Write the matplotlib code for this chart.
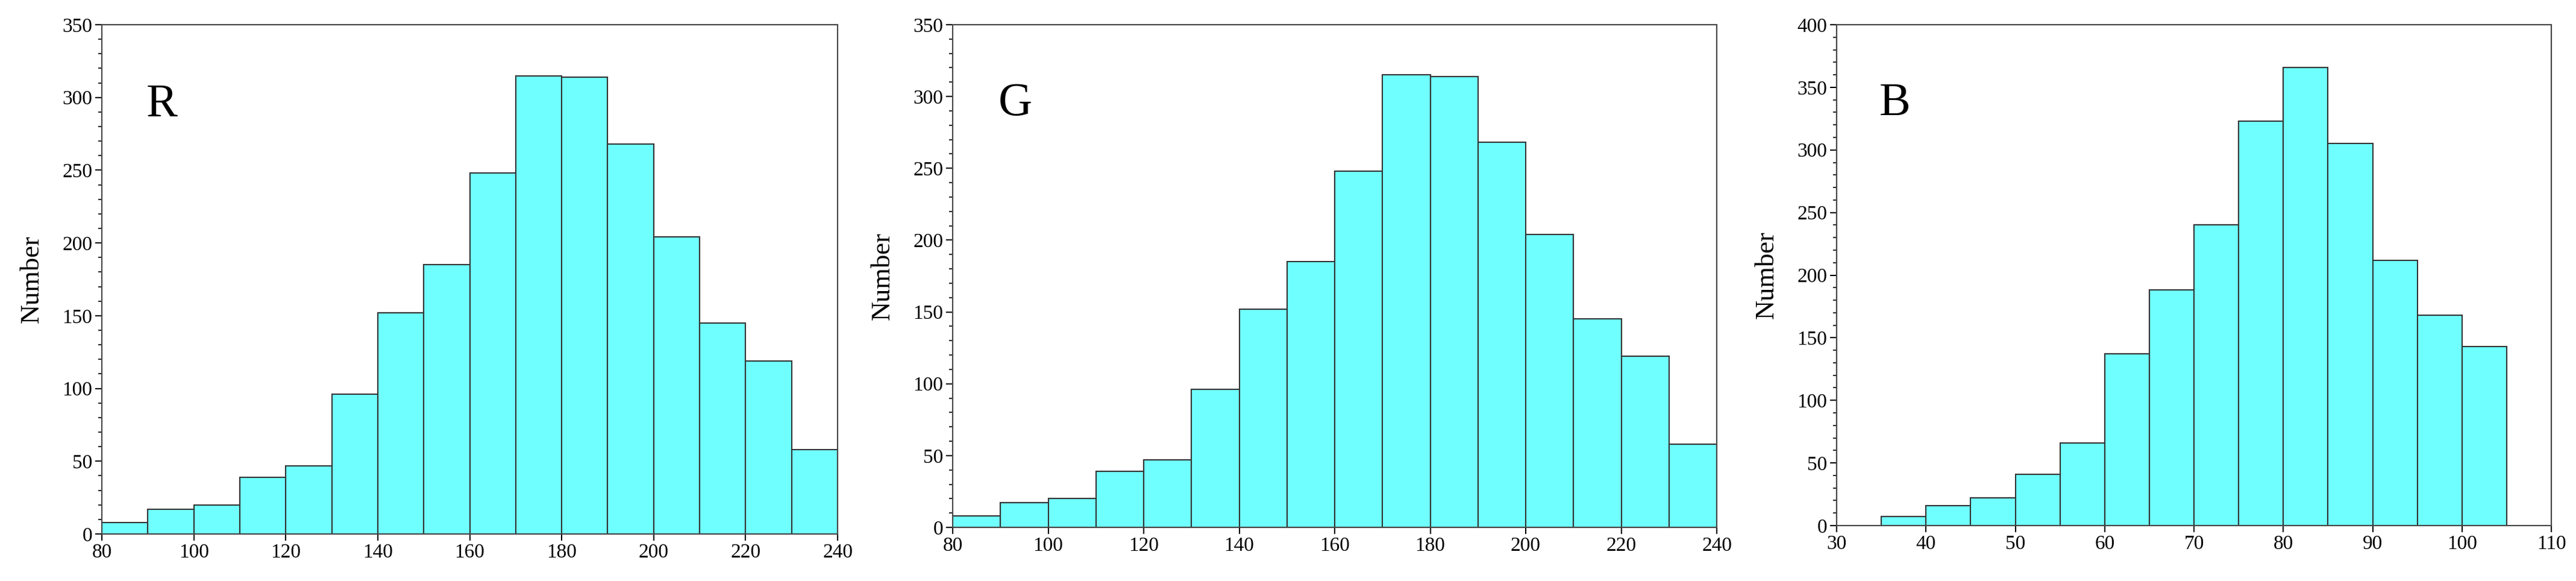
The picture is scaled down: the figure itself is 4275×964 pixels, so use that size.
import matplotlib
matplotlib.use("Agg")
import matplotlib.pyplot as plt
import numpy as np

# bin edges and counts per channel
r_edges = list(range(80, 241, 10))
r_counts = [8, 17, 20, 39, 47, 96, 152, 185, 248, 315, 314, 268, 204, 145, 119, 58]
g_edges = list(range(80, 241, 10))
g_counts = [8, 17, 20, 39, 47, 96, 152, 185, 248, 315, 314, 268, 204, 145, 119, 58]
b_edges = list(range(35, 106, 5))
b_counts = [7, 16, 22, 41, 66, 137, 188, 240, 323, 366, 305, 212, 168, 143]

panels = [
    ("R", r_edges, r_counts, (80, 240), 350, [169, 1390, 41, 886]),
    ("G", g_edges, g_counts, (80, 240), 350, [1581, 2849, 41, 875]),
    ("B", b_edges, b_counts, (30, 110), 400, [3048, 4234, 41, 872]),
]

W, H = 4275, 964
fig = plt.figure(figsize=(W / 100, H / 100), dpi=100)
plt.rcParams["font.family"] = ["Liberation Serif", "DejaVu Serif"]

for name, edges, counts, xlim, ymax, (l, r, t, b) in panels:
    ax = fig.add_axes([l / W, 1 - b / H, (r - l) / W, (b - t) / H])
    ax.bar(edges[:-1], counts, width=np.diff(edges), align="edge",
           color="#70FFFF", edgecolor="#333333", linewidth=1.5)
    ax.set_xlim(*xlim)
    ax.set_ylim(0, ymax)
    ax.set_yticks(np.arange(0, ymax + 1, 50))
    ax.set_yticks(np.arange(0, ymax + 1, 10), minor=True)
    ax.tick_params(axis="both", labelsize=24, length=8, width=1.5)
    ax.tick_params(axis="y", which="minor", length=4, width=1.2)
    for s in ax.spines.values():
        s.set_color("#444444")
        s.set_linewidth(1.5)
    ax.set_ylabel("Number", fontsize=32, labelpad=22)
    ax.text(0.06, 0.82, name, transform=ax.transAxes, fontsize=56)

fig.savefig("out.png", dpi=100)
